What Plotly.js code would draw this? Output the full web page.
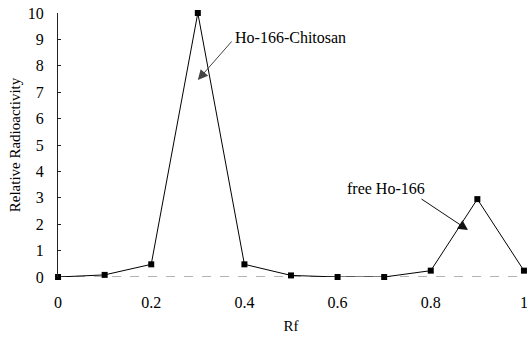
<!DOCTYPE html>
<html><head><meta charset="utf-8">
<script src="https://cdn.plot.ly/plotly-3.0.1.min.js"></script>
<style>html,body{margin:0;padding:0;background:#fff}#c{width:527px;height:339px}</style>
</head><body><div id="c"></div>
<script>
const rf = [0, 0.1, 0.2, 0.3, 0.4, 0.5, 0.6, 0.7, 0.8, 0.9, 1.0];
const activity = [0, 0.08, 0.48, 10, 0.48, 0.06, 0, 0, 0.24, 2.95, 0.24];
const xTicks = [0, 0.2, 0.4, 0.6, 0.8, 1];
const xTickLabels = ["0", "0.2", "0.4", "0.6", "0.8", "1"];
const yTicks = [0,1,2,3,4,5,6,7,8,9,10];

const font = {family: "Liberation Serif, Times New Roman, serif", color: "#000", size: 16};

Plotly.newPlot("c", [{
  x: rf, y: activity, type: "scatter", mode: "lines+markers",
  line: {color: "#000", width: 1},
  marker: {color: "#000", size: 6, symbol: "square"},
  cliponaxis: false, showlegend: false
}], {
  width: 527, height: 339,
  margin: {l: 58, r: 3, t: 13, b: 62},
  paper_bgcolor: "#fff", plot_bgcolor: "#fff",
  font: font,
  xaxis: {range: [-0.0001, 1.0001], tickvals: xTicks, ticktext: xTickLabels, showgrid: false, zeroline: false,
          showline: false, ticks: "", tickfont: {size: 16}, ticklabelstandoff: 14, ticklabeloverflow: "allow",
          title: {text: "Rf", font: {size: 15}, standoff: 10}},
  yaxis: {range: [0, 10], tickvals: yTicks, showgrid: false, zeroline: false,
          showline: true, linecolor: "#222", linewidth: 1, ticks: "inside", ticklen: 3, tickcolor: "#222",
          tickfont: {size: 16}, ticklabelstandoff: 10,
          title: {text: "Relative Radioactivity", font: {size: 15}, standoff: 3}},
  shapes: [{type: "line", xref: "x", yref: "y", x0: 0, x1: 1, y0: 0, y1: 0,
            line: {color: "#666", width: 1, dash: "dash"}, layer: "below"}],
  annotations: [
    {x: 0.498, y: 9.09, xref: "x", yref: "y", text: "Ho-166-Chitosan", showarrow: false, font: {size: 16}},
    {x: 0.300, y: 7.46, xref: "x", yref: "y", ax: 0.3755, ay: 8.98, axref: "x", ayref: "y",
     text: "", showarrow: true, arrowhead: 2, arrowsize: 2, arrowwidth: 1, arrowcolor: "#444"},
    {x: 0.704, y: 3.37, xref: "x", yref: "y", text: "free Ho-166", showarrow: false, font: {size: 16}},
    {x: 0.880, y: 1.78, xref: "x", yref: "y", ax: 0.777, ay: 2.99, axref: "x", ayref: "y",
     text: "", showarrow: true, arrowhead: 2, arrowsize: 2, arrowwidth: 1, arrowcolor: "#111"}
  ]
}, {staticPlot: true});
</script></body></html>
